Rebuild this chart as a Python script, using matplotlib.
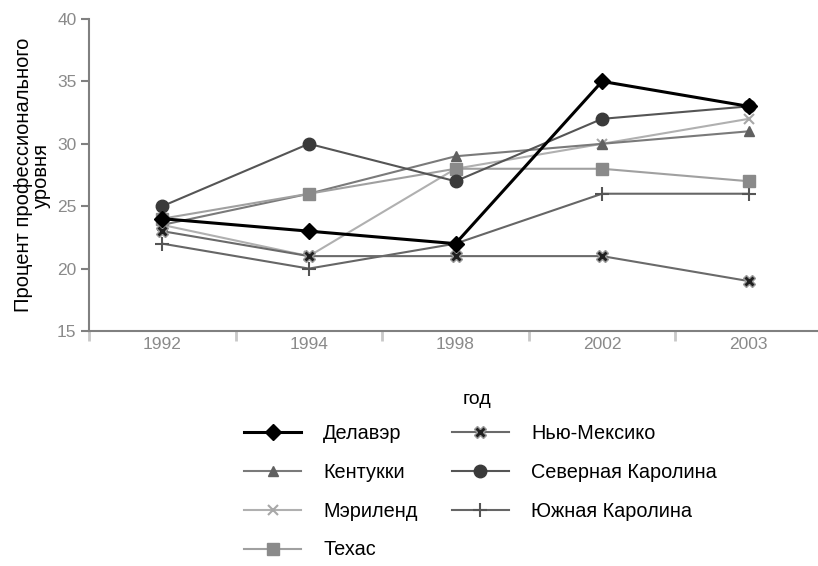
import matplotlib
matplotlib.use("Agg")
import matplotlib.pyplot as plt
import numpy as np

plt.rcParams['font.family'] = ['Liberation Sans', 'DejaVu Sans']

years = ['1992', '1994', '1998', '2002', '2003']
delaware = [24, 23, 22, 35, 33]
kentucky = [23.5, 26, 29, 30, 31]
maryland = [23.5, 21, 28, 30, 32]
texas = [24, 26, 28, 28, 27]
new_mexico = [23, 21, 21, 21, 19]
north_carolina = [25, 30, 27, 32, 33]
south_carolina = [22, 20, 22, 26, 26]

fig = plt.figure(figsize=(8.18, 5.66), dpi=100)
ax = fig.add_axes([89/818, 1-331/566, 733/818, 312/566])

x = np.arange(len(years))
series = [
    ('Делавэр', delaware, dict(color='#000000', lw=2.2, marker='D', ms=8, mfc='#000000', mec='#000000', zorder=10)),
    ('Кентукки', kentucky, dict(color='#7a7a7a', lw=1.5, marker='^', ms=7, mfc='#606060', mec='#606060', zorder=5)),
    ('Мэриленд', maryland, dict(color='#b0b0b0', lw=1.5, marker='x', ms=7, mew=1.5, mfc='#a8a8a8', mec='#a8a8a8', zorder=4)),
    ('Техас', texas, dict(color='#a0a0a0', lw=1.5, marker='s', ms=9, mfc='#8a8a8a', mec='#8a8a8a', zorder=6)),
    ('Нью-Мексико', new_mexico, dict(color='#6a6a6a', lw=1.5, marker='X', ms=8, mfc='#202020', mec='#9a9a9a', zorder=7)),
    ('Северная Каролина', north_carolina, dict(color='#555555', lw=1.5, marker='o', ms=9, mfc='#3a3a3a', mec='#3a3a3a', zorder=8)),
    ('Южная Каролина', south_carolina, dict(color='#666666', lw=1.5, marker='+', ms=10, mew=1.5, mfc='#555555', mec='#555555', zorder=3)),
]
handles = []
for name, vals, kw in series:
    h, = ax.plot(x, vals, label=name, **kw)
    handles.append(h)

ax.set_xlim(-0.5, 4.5)
ax.set_ylim(15, 40)
ax.set_yticks([15, 20, 25, 30, 35, 40])
ax.set_xticks(x)
ax.set_xticklabels(years)
ax.set_xticks(np.arange(-0.5, 4.6, 1.0), minor=True)
for s in ['top', 'right']:
    ax.spines[s].set_visible(False)
for s in ['left', 'bottom']:
    ax.spines[s].set_color('#808080')
    ax.spines[s].set_linewidth(1.5)
ax.tick_params(axis='x', which='major', length=0, pad=4, labelsize=12.5, labelcolor='#8a8a8a')
ax.tick_params(axis='x', which='minor', length=7, width=2, color='#c8c8c8', direction='out')
ax.tick_params(axis='y', length=6, width=1.5, color='#808080', labelsize=12.5, labelcolor='#8a8a8a', pad=3)
ax.set_ylabel('Процент профессионального\nуровня', fontsize=14.5, color='#000000', labelpad=4, linespacing=0.95)

fig.text(477/818, 1-400/566, 'год', ha='center', va='center', fontsize=14)
fig.legend(handles=handles, ncol=2, frameon=False, loc='upper left',
           bbox_to_anchor=(226/818, 1-406/566), fontsize=14.3,
           handlelength=2.9, labelspacing=1.0, columnspacing=1.7, handletextpad=1.1)

fig.savefig('out.png', dpi=100)
